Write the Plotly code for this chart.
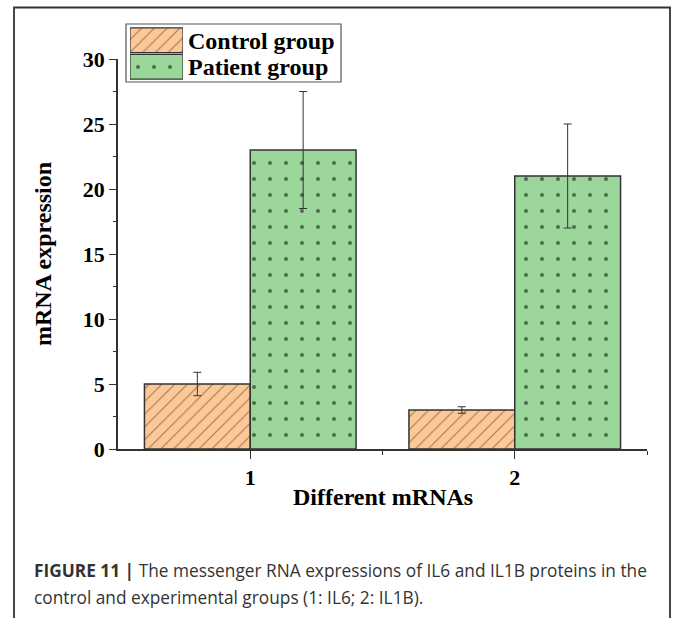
import plotly.graph_objects as go

# ---- data ----
categories = [1, 2]
tick_labels = ["1", "2"]
series_names = ["Control group", "Patient group"]
control_values = [5, 3]
control_errors = [0.9, 0.25]
patient_values = [23, 21]
patient_errors = [4.5, 4.0]
y_ticks = [0, 5, 10, 15, 20, 25, 30]

# ---- styles ----
fills = ["#FDC896", "#9BD69B"]
patterns = [dict(shape="/", fgcolor="#2b2b2b", size=9, solidity=0.12, bgcolor=fills[0]),
            dict(shape=".", fgcolor="#000000", size=16, solidity=0.05, bgcolor=fills[1])]
edge = "#333333"
serif = "Liberation Serif, Times New Roman, serif"
sans = "Open Sans, Liberation Sans, Arial, sans-serif"

W, H = 673, 618
L, R, T, B = 118, 26, 5, 169
PW, PH = W - L - R, H - T - B
def px(p):
    return (p - L) / PW
def py(p):
    return (H - B - p) / PH

fig = go.Figure()
values = [control_values, patient_values]
errors = [control_errors, patient_errors]
for i, name in enumerate(series_names):
    fig.add_trace(go.Bar(
        x=categories, y=values[i], name=name, showlegend=False,
        marker=dict(color=fills[i], pattern=patterns[i], line=dict(color=edge, width=1.5)),
        error_y=dict(type="data", array=errors[i], color=edge, thickness=1, width=4),
        xaxis="x", yaxis="y",
    ))

# custom legend swatches (inset axes)
for i, name in enumerate(series_names):
    fig.add_trace(go.Bar(
        y=[name], x=[1], orientation="h", showlegend=False, hoverinfo="skip",
        marker=dict(color=fills[i], pattern=patterns[i], line=dict(color=edge, width=1.2)),
        width=0.93, offset=-0.465,
        xaxis="x2", yaxis="y2",
    ))

main_top = py(59)
fig.update_layout(
    width=W, height=H,
    margin=dict(l=L, r=R, t=T, b=B, autoexpand=False),
    paper_bgcolor="white", plot_bgcolor="white",
    barmode="group", bargap=0.2, bargroupgap=0,
    xaxis=dict(domain=[0, 1], range=[0.5, 2.5], tickvals=categories,
               ticktext=["<b>%s</b>" % t for t in tick_labels], automargin=False,
               showline=True, linecolor=edge, linewidth=1.5, ticks="outside", ticklen=8,
               tickwidth=1.2, tickcolor=edge, showgrid=False, zeroline=False,
               tickfont=dict(family=serif, size=22, color="black"),
               minor=dict(tickvals=[1.5, 2.5], ticks="outside", ticklen=4, tickcolor=edge, tickwidth=1.2)),
    yaxis=dict(domain=[0, main_top], range=[0, 30], tickvals=y_ticks,
               ticktext=["<b>%d</b>" % v for v in y_ticks], automargin=False,
               showline=True, linecolor=edge, linewidth=1.5, ticks="outside", ticklen=7,
               tickwidth=1.2, tickcolor=edge, showgrid=False, zeroline=False,
               tickfont=dict(family=serif, size=22, color="black"),
               minor=dict(dtick=2.5, ticks="outside", ticklen=3, tickcolor=edge, tickwidth=1.2),
               title=dict(text="<b>mRNA expression</b>", font=dict(family=serif, size=24, color="black"), standoff=24)),
    xaxis2=dict(domain=[px(130), px(183)], range=[0, 1], visible=False, anchor="y2",
                fixedrange=True, automargin=False),
    yaxis2=dict(domain=[py(80), py(27)], anchor="x2", side="right", autorange="reversed",
                showline=False, showgrid=False, zeroline=False, ticks="", automargin=False,
                tickmode="array", tickvals=series_names,
                ticktext=["<b>%s</b>" % s for s in series_names],
                tickfont=dict(family=serif, size=24, color="black"), ticklabelstandoff=4,
                fixedrange=True),
    shapes=[
        dict(type="rect", xref="paper", yref="paper", x0=px(126), x1=px(341), y0=py(82), y1=py(24),
             line=dict(color="#555555", width=1.2), fillcolor="rgba(0,0,0,0)", layer="below"),
        dict(type="rect", xref="paper", yref="paper", x0=px(14), x1=px(670), y0=py(660), y1=py(7.5),
             line=dict(color="#333333", width=1.8), fillcolor="rgba(0,0,0,0)"),
    ],
    annotations=[
        dict(xref="paper", yref="paper", x=0.5, y=py(497), xanchor="center", yanchor="middle",
             showarrow=False, text="<b>Different mRNAs</b>",
             font=dict(family=serif, size=24, color="black")),
        dict(xref="paper", yref="paper", x=px(32), y=py(570), xanchor="left", yanchor="middle",
             showarrow=False, align="left",
             text="<b>FIGURE 11 |</b> The messenger RNA expressions of IL6 and IL1B proteins in the",
             font=dict(family=sans, size=17.3, color="#333333")),
        dict(xref="paper", yref="paper", x=px(32), y=py(597), xanchor="left", yanchor="middle",
             showarrow=False, align="left",
             text="control and experimental groups (1: IL6; 2: IL1B).",
             font=dict(family=sans, size=17.3, color="#333333")),
    ],
)

fig.write_html("out.html")
